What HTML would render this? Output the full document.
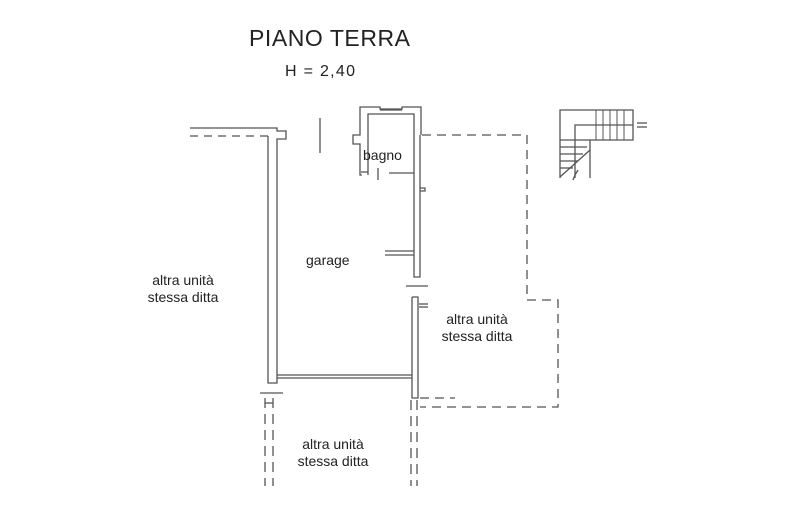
<!DOCTYPE html>
<html><head><style>body{margin:0;background:#fff}svg{display:block}text{font-family:"Liberation Sans",sans-serif;fill:#222}</style></head>
<body>
<svg width="809" height="509" viewBox="0 0 809 509" xmlns="http://www.w3.org/2000/svg">
<g fill="none" stroke="#555" stroke-width="1.3">
<polyline points="190,128 277,128 277,131 286,131 286,139 277,139 277,383 268,383 268,136"/>
<line x1="190" y1="136" x2="268" y2="136" stroke-dasharray="8,6"/>
<line x1="260" y1="393" x2="283" y2="393"/>
<line x1="265" y1="398" x2="265" y2="486" stroke-dasharray="10,6"/>
<line x1="273" y1="398" x2="273" y2="486" stroke-dasharray="10,6"/>
<line x1="265" y1="403" x2="273" y2="403"/>
<line x1="277" y1="375" x2="412" y2="375"/>
<line x1="277" y1="378" x2="412" y2="378"/>
<polyline points="406,286 428,286"/>
<polyline points="412,297 418,297 418,398 412,398 412,297"/>
<line x1="419" y1="304" x2="428" y2="304"/>
<line x1="419" y1="307" x2="428" y2="307"/>
<line x1="411" y1="400" x2="411" y2="486" stroke-dasharray="10,6"/>
<line x1="417" y1="400" x2="417" y2="486" stroke-dasharray="10,6"/>
<polyline points="362,175 360,175 360,144 353,144 353,135 360,135 360,107 380,107 380,109 402,109 402,107 421,107 421,135"/>
<polyline points="368,175 368,114 414,114 414,173 389,173"/>
<line x1="380" y1="110" x2="402" y2="110"/>
<line x1="361" y1="172" x2="368" y2="172"/>
<line x1="378" y1="168" x2="378" y2="180"/>
<polyline points="414,173 414,277 420,277 420,135"/>
<polyline points="420,188 425,188 425,191 420,191"/>
<polyline points="385,251 414,251"/>
<polyline points="385,255 414,255"/>
<line x1="320" y1="118" x2="320" y2="153"/>
<polyline points="422,135 527,135 527,300 558,300 558,407 420,407" stroke-dasharray="9,6"/>
<line x1="420" y1="398" x2="455" y2="398" stroke-dasharray="9,6"/>
<polyline points="560,178 560,110 633,110 633,140 590,140 590,178"/>
<polyline points="575,178 575,125 633,125"/>
<line x1="560" y1="140" x2="590" y2="140"/>
<line x1="560" y1="147" x2="587" y2="147"/>
<line x1="560" y1="154" x2="583" y2="154"/>
<line x1="560" y1="161" x2="578" y2="161"/>
<line x1="560" y1="168" x2="573" y2="168"/>
<line x1="590" y1="150" x2="560" y2="177"/>
<g stroke-width="1">
<line x1="596" y1="110" x2="596" y2="140"/><line x1="603" y1="110" x2="603" y2="140"/>
<line x1="610" y1="110" x2="610" y2="140"/><line x1="617" y1="110" x2="617" y2="140"/>
<line x1="624" y1="110" x2="624" y2="140"/>
</g>
<line x1="575" y1="175" x2="573" y2="180"/><line x1="575" y1="175" x2="578" y2="170"/>
<line x1="637" y1="123" x2="647" y2="123"/><line x1="637" y1="127" x2="647" y2="127"/>
</g>
<text x="249" y="46" font-size="23" textLength="161">PIANO TERRA</text>
<text x="285" y="76" font-size="16" textLength="70">H = 2,40</text>
<text x="363" y="160" font-size="14">bagno</text>
<text x="306" y="265" font-size="14">garage</text>
<text x="183" y="285" font-size="14" text-anchor="middle">altra unità</text>
<text x="183" y="302" font-size="14" text-anchor="middle">stessa ditta</text>
<text x="477" y="324" font-size="14" text-anchor="middle">altra unità</text>
<text x="477" y="341" font-size="14" text-anchor="middle">stessa ditta</text>
<text x="333" y="449" font-size="14" text-anchor="middle">altra unità</text>
<text x="333" y="466" font-size="14" text-anchor="middle">stessa ditta</text>
</svg>
</body></html>
